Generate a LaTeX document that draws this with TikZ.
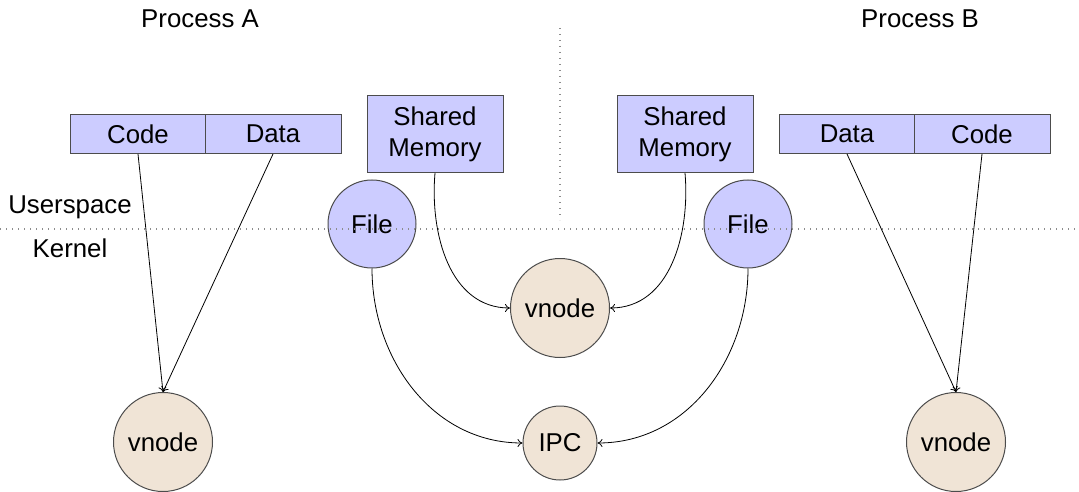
\documentclass[tikz,border=0pt]{standalone}
\usepackage{fontspec}
\setmainfont{Liberation Sans}
\usetikzlibrary{arrows.meta}
\begin{document}
\begin{tikzpicture}[x=1pt,y=-1pt,
  font=\fontsize{25.8}{31}\selectfont,
  box/.style={draw=black!70,line width=1pt,fill=blue!20,inner sep=0pt,align=center},
  seg/.style={box,minimum width=136pt,minimum height=39pt},
  shm/.style={box,minimum width=136pt,minimum height=77pt},
  fcirc/.style={draw=black!70,line width=1pt,fill=blue!20,circle,inner sep=0pt,minimum size=88pt},
  kcirc/.style={draw=black!70,line width=1pt,fill={rgb,255:red,240;green,228;blue,214},circle,inner sep=0pt},
  conn/.style={draw=black,line width=0.8pt,-{To[length=5pt,width=8pt]}},
  dots/.style={draw=black!45,line width=1.3pt,dash pattern=on 1.3pt off 4.7pt}
]
\useasboundingbox (0,0) rectangle (1079,492);
% labels
\node (pa) at (200,19) {Process A};
\node (pb) at (920,19) {Process B};
\node (us) at (70,207) {Userspace};
\node (kn) at (70,248) {Kernel};
% process A segments
\node[seg] (codeA) at (138,134) {Code};
\node[seg] (dataA) at (273,134) {Data};
% process B segments
\node[seg] (dataB) at (847,134) {Data};
\node[seg] (codeB) at (982,134) {Code};
% shared memory
\node[shm] (shmL) at (435,134) {Shared\\Memory};
\node[shm] (shmR) at (685,134) {Shared\\Memory};
% files
\node[fcirc] (fileL) at (372,224) {File};
\node[fcirc] (fileR) at (748,224) {File};
% kernel objects
\node[kcirc,minimum size=99pt] (vnM) at (560,308) {vnode};
\node[kcirc,minimum size=74pt] (ipc) at (560,443) {IPC};
\node[kcirc,minimum size=99pt] (vnA) at (163,442) {vnode};
\node[kcirc,minimum size=99pt] (vnB) at (956,442) {vnode};
% dotted separators
\coordinate (sepL) at (0,229);
\coordinate (sepR) at (1079,229);
\coordinate (sepT) at (560,28);
\coordinate (sepB) at (560,220);
\draw[dots] (sepT) -- (sepB);
\draw[dots] (sepL) -- (sepR);
% connectors
\draw[conn] (codeA.south) -- (vnA.north);
\draw[conn] (dataA.south) -- (vnA.north);
\draw[conn] (dataB.south) -- (vnB.north);
\draw[conn] (codeB.south) -- (vnB.north);
\draw[conn] (shmL.south) to[out=-95,in=180] (vnM.west);
\draw[conn] (shmR.south) to[out=-85,in=0] (vnM.east);
\draw[conn] (fileL.south) to[out=-90,in=180] (ipc.west);
\draw[conn] (fileR.south) to[out=-90,in=0] (ipc.east);
\end{tikzpicture}
\end{document}
